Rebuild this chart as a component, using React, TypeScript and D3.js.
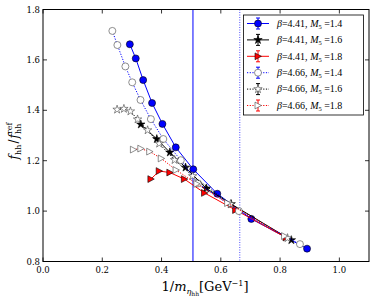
import React from "react";
import * as d3 from "d3";

// β=4.41, M5=1.4 (blue filled circles)
const b441_14_x = [0.293, 0.313, 0.338, 0.368, 0.403, 0.448, 0.507, 0.588, 0.703, 0.891];
const b441_14_y = [1.662, 1.606, 1.52, 1.429, 1.346, 1.253, 1.166, 1.069, 0.969, 0.851];
// β=4.41, M5=1.6 (black filled stars)
const b441_16_x = [0.33, 0.384, 0.428, 0.481, 0.551, 0.635, 0.838];
const b441_16_y = [1.344, 1.286, 1.233, 1.173, 1.09, 1.028, 0.885];
// β=4.41, M5=1.8 (red filled triangles)
const b441_18_x = [0.364, 0.392, 0.428, 0.477, 0.545, 0.65, 0.82];
const b441_18_y = [1.127, 1.159, 1.153, 1.127, 1.072, 1.004, 0.895];
// β=4.66, M5=1.4 (open circles)
const b466_14_x = [0.234, 0.251, 0.278, 0.301, 0.329, 0.364, 0.406, 0.465, 0.523, 0.661, 0.867];
const b466_14_y = [1.715, 1.659, 1.574, 1.511, 1.441, 1.365, 1.286, 1.202, 1.11, 1.0, 0.869];
// β=4.66, M5=1.6 (open stars)
const b466_16_x = [0.25, 0.273, 0.295, 0.319, 0.353, 0.392, 0.444, 0.505, 0.633, 0.825];
const b466_16_y = [1.403, 1.406, 1.396, 1.364, 1.321, 1.268, 1.203, 1.139, 1.028, 0.893];
// β=4.66, M5=1.8 (open triangles)
const b466_18_x = [0.305, 0.33, 0.36, 0.399, 0.449, 0.519, 0.623, 0.815];
const b466_18_y = [1.244, 1.248, 1.236, 1.209, 1.163, 1.108, 1.032, 0.901];

const xTicks = [0.0, 0.2, 0.4, 0.6, 0.8, 1.0];
const yTicks = [0.8, 1.0, 1.2, 1.4, 1.6, 1.8];
const vSolid = 0.506;
const vDotted = 0.664;

type Series = {
  xs: number[];
  ys: number[];
  color: string;
  dash: string | null;
  marker: "circle" | "star" | "tri";
  filled: boolean;
  beta: string;
  m5: string;
};

const series: Series[] = [
  { xs: b441_14_x, ys: b441_14_y, color: "#0000ff", dash: null, marker: "circle", filled: true, beta: "4.41", m5: "1.4" },
  { xs: b441_16_x, ys: b441_16_y, color: "#000000", dash: null, marker: "star", filled: true, beta: "4.41", m5: "1.6" },
  { xs: b441_18_x, ys: b441_18_y, color: "#ff0000", dash: null, marker: "tri", filled: true, beta: "4.41", m5: "1.8" },
  { xs: b466_14_x, ys: b466_14_y, color: "#0000ff", dash: "1.2,1.5", marker: "circle", filled: false, beta: "4.66", m5: "1.4" },
  { xs: b466_16_x, ys: b466_16_y, color: "#000000", dash: "1.2,1.5", marker: "star", filled: false, beta: "4.66", m5: "1.6" },
  { xs: b466_18_x, ys: b466_18_y, color: "#ff0000", dash: "1.2,1.5", marker: "tri", filled: false, beta: "4.66", m5: "1.8" },
];

const W = 374, H = 303;
const L = 43, R = 369, T = 9.5, B = 261.5;
const xs = d3.scaleLinear().domain([0, 1.1]).range([L, R]);
const ys = d3.scaleLinear().domain([0.8, 1.8]).range([B, T]);

const starPath = d3.symbol().type(d3.symbolStar).size(22)()!;
const triPath = "M-3,-3.4 L3.4,0 L-3,3.4 Z";

function Marker({ s, x, y }: { s: Series; x: number; y: number }) {
  const fill = s.filled ? (s.marker === "star" ? "#000" : s.color) : "#fff";
  const stroke = s.filled ? "#000" : "#444";
  if (s.marker === "circle")
    return <circle cx={x} cy={y} r={3.5} fill={fill} stroke={stroke} strokeWidth={0.6} />;
  if (s.marker === "star")
    return <path d={starPath} transform={`translate(${x},${y})`} fill={fill} stroke={stroke} strokeWidth={0.6} />;
  return <path d={triPath} transform={`translate(${x},${y})`} fill={fill} stroke={stroke} strokeWidth={0.6} />;
}

export default function App() {
  const line = d3.line<number[]>().x((d) => xs(d[0])).y((d) => ys(d[1]));
  const font = "'DejaVu Serif', serif";
  const lfont = "'Liberation Serif', serif";
  const legX = 243.5, legY = 15, legW = 120, legH = 100;
  return (
    <svg width={W} height={H} style={{ position: "absolute", left: 0, top: 0, background: "#fff" }}>
      <rect x={0} y={0} width={W} height={H} fill="#fff" />
      {/* vertical lines */}
      <line x1={xs(vSolid)} x2={xs(vSolid)} y1={T} y2={B} stroke="#0000ff" strokeWidth={1} />
      <line x1={xs(vDotted)} x2={xs(vDotted)} y1={T} y2={B} stroke="#0000ff" strokeWidth={1} strokeDasharray="1,1.5" opacity={0.7} />
      {/* series */}
      {series.map((s, i) => {
        const pts = s.xs.map((x, j) => [x, s.ys[j]]);
        return (
          <g key={i}>
            <path d={line(pts)!} fill="none" stroke={s.color} strokeWidth={1} strokeDasharray={s.dash ?? undefined} />
            {pts.map((p, j) => (
              <Marker key={j} s={s} x={xs(p[0])} y={ys(p[1])} />
            ))}
          </g>
        );
      })}
      {/* frame */}
      <rect x={L} y={T} width={R - L} height={B - T} fill="none" stroke="#000" strokeWidth={1} />
      {xTicks.map((t) => (
        <g key={"x" + t}>
          <line x1={xs(t)} x2={xs(t)} y1={B} y2={B - 4} stroke="#000" strokeWidth={0.8} />
          <line x1={xs(t)} x2={xs(t)} y1={T} y2={T + 4} stroke="#000" strokeWidth={0.8} />
          <text x={xs(t)} y={B + 11} fontSize={8.5} fontFamily={font} textAnchor="middle" fill="#000">
            {t.toFixed(1)}
          </text>
        </g>
      ))}
      {yTicks.map((t) => (
        <g key={"y" + t}>
          <line x1={L} x2={L + 4} y1={ys(t)} y2={ys(t)} stroke="#000" strokeWidth={0.8} />
          <line x1={R} x2={R - 4} y1={ys(t)} y2={ys(t)} stroke="#000" strokeWidth={0.8} />
          <text x={L - 3} y={ys(t) + 3} fontSize={8.5} fontFamily={font} textAnchor="end" fill="#000">
            {t.toFixed(1)}
          </text>
        </g>
      ))}
      {/* y label */}
      <g transform={`translate(18,${(T + B) / 2 + 1}) rotate(-90)`} fontFamily={font} fill="#000">
        <text x={-23} y={0} fontSize={12} fontStyle="italic">f</text>
        <text x={-18.5} y={3} fontSize={8}>hh</text>
        <text x={-7} y={0} fontSize={12}>/</text>
        <text x={-2} y={0} fontSize={12} fontStyle="italic">f</text>
        <text x={2.5} y={3} fontSize={8}>hh</text>
        <text x={2.5} y={-6} fontSize={8}>ref</text>
      </g>
      {/* x label */}
      <text x={205} y={291} textAnchor="middle" fontFamily={font} fontSize={13} fill="#000">
        <tspan>1/</tspan>
        <tspan fontStyle="italic">m</tspan>
        <tspan fontSize={8} fontStyle="italic" dy={3}>η</tspan>
        <tspan fontSize={6} dy={2}>hh</tspan>
        <tspan dy={-5}>[GeV</tspan>
        <tspan fontSize={8} dy={-5}>−1</tspan>
        <tspan dy={5}>]</tspan>
      </text>
      {/* legend */}
      <rect x={legX} y={legY} width={legW} height={legH} fill="#fff" stroke="#000" strokeWidth={0.8} />
      {series.map((s, i) => {
        const cy = legY + 8.5 + i * 16.4;
        const hx = 258;
        return (
          <g key={"leg" + i}>
            <line x1={247} x2={269} y1={cy} y2={cy} stroke={s.color} strokeWidth={1} strokeDasharray={s.dash ?? undefined} />
            <line x1={hx} x2={hx} y1={cy - 5.5} y2={cy + 5.5} stroke={s.color} strokeWidth={1} />
            <line x1={hx - 2} x2={hx + 2} y1={cy - 5.5} y2={cy - 5.5} stroke={s.color} strokeWidth={1} />
            <line x1={hx - 2} x2={hx + 2} y1={cy + 5.5} y2={cy + 5.5} stroke={s.color} strokeWidth={1} />
            <Marker s={s} x={hx} y={cy} />
            <text x={277} y={cy + 3.3} fontFamily={lfont} fontSize={10} fill="#000">
              <tspan fontStyle="italic">β</tspan>
              <tspan>{"=" + s.beta + ", "}</tspan>
              <tspan fontStyle="italic">M</tspan>
              <tspan fontSize={6.5} dy={2}>5</tspan>
              <tspan dy={-2}>{" =" + s.m5}</tspan>
            </text>
          </g>
        );
      })}
    </svg>
  );
}
